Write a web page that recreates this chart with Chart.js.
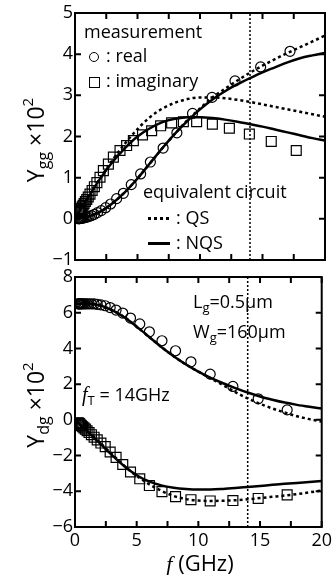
<!DOCTYPE html>
<html>
<head>
<meta charset="utf-8">
<script src="https://cdn.jsdelivr.net/npm/chart.js@4.4.1/dist/chart.umd.min.js"></script>
<style>
body { margin: 0; background: #fff; }
#wrap { position: relative; width: 335px; height: 575px; font-family: "Open Sans", sans-serif; color: #000; overflow: hidden; }
canvas { position: absolute; left: 0; }
.t { position: absolute; font-size: 18px; line-height: 1; white-space: nowrap; }
.t sub { font-size: 13px; vertical-align: -4px; line-height: 0; }
.yt { position: absolute; font-size: 23px; line-height: 1; white-space: nowrap; transform: translate(-50%, -50%) rotate(-90deg); }
.yt sub { font-size: 16px; vertical-align: -5px; line-height: 0; }
.yt sup { font-size: 15px; vertical-align: 11px; line-height: 0; }
.fi { font-family: "Liberation Serif", serif; font-style: italic; }
.circ { position: absolute; width: 8px; height: 8px; border: 1.3px solid #000; border-radius: 50%; }
.sq { position: absolute; width: 9px; height: 9px; border: 1.3px solid #000; }
.dot { position: absolute; height: 2.5px; width: 22px; background: repeating-linear-gradient(90deg, #000 0 3px, transparent 3px 6px); }
.sol { position: absolute; height: 2.5px; width: 22px; background: #000; }
</style>
</head>
<body>
<div id="wrap">
  <canvas id="topChart" width="335" height="274" style="top:0"></canvas>
  <canvas id="botChart" width="335" height="313" style="top:262px"></canvas>

  <div class="t" style="left:84px;top:22px">measurement</div>
  <div class="circ" style="left:89px;top:52px"></div>
  <div class="t" style="left:106px;top:46px">: real</div>
  <div class="sq" style="left:89px;top:77px"></div>
  <div class="t" style="left:106px;top:71px">: imaginary</div>

  <div class="t" style="left:143px;top:182px">equivalent circuit</div>
  <div class="dot" style="left:148px;top:217px"></div>
  <div class="t" style="left:176px;top:208px">: QS</div>
  <div class="sol" style="left:148px;top:242px"></div>
  <div class="t" style="left:176px;top:233px">: NQS</div>

  <div class="t" style="left:193px;top:292px">L<sub>g</sub>=0.5μm</div>
  <div class="t" style="left:193px;top:322px">W<sub>g</sub>=160μm</div>
  <div class="t" style="left:82px;top:384px"><span class="fi" style="font-size:20px">f</span><sub>T</sub> = 14GHz</div>

  <div class="yt" style="left:35px;top:140px">Y<sub>gg</sub> ×10<sup>2</sup></div>
  <div class="yt" style="left:35px;top:405px">Y<sub>dg</sub> ×10<sup>2</sup></div>
  <div class="t" style="left:200px;top:551px;font-size:22px;transform:translateX(-50%)"><span class="fi">f</span> (GHz)</div>
</div>

<script>
// model curves, 0..20 GHz
const fModel = [0, 1, 2, 3, 4, 5, 6, 7, 8, 9, 10, 11, 12, 13, 14, 15, 16, 17, 18, 19, 20];
const ggReQS  = [0, 0.05, 0.17, 0.38, 0.65, 0.98, 1.35, 1.72, 2.07, 2.4, 2.68, 2.95, 3.16, 3.36, 3.55, 3.72, 3.88, 4.03, 4.17, 4.31, 4.45];
const ggReNQS = [0, 0.05, 0.17, 0.38, 0.65, 0.98, 1.35, 1.72, 2.07, 2.38, 2.66, 2.9, 3.1, 3.27, 3.42, 3.56, 3.68, 3.8, 3.9, 3.97, 4.03];
const ggImQS  = [0, 0.5, 0.98, 1.43, 1.83, 2.18, 2.47, 2.68, 2.82, 2.91, 2.95, 2.95, 2.93, 2.89, 2.84, 2.78, 2.72, 2.66, 2.6, 2.54, 2.48];
const ggImNQS = [0, 0.5, 0.97, 1.38, 1.72, 2.0, 2.2, 2.35, 2.43, 2.47, 2.47, 2.45, 2.41, 2.36, 2.3, 2.24, 2.17, 2.1, 2.03, 1.96, 1.9];
const dgReQS  = [6.5, 6.5, 6.42, 6.15, 5.75, 5.22, 4.65, 4.08, 3.56, 3.1, 2.7, 2.32, 1.95, 1.55, 1.2, 0.9, 0.64, 0.41, 0.2, 0.04, -0.1];
const dgReNQS = [6.5, 6.5, 6.42, 6.15, 5.75, 5.22, 4.65, 4.08, 3.56, 3.1, 2.7, 2.35, 2.05, 1.78, 1.53, 1.31, 1.13, 0.97, 0.84, 0.73, 0.63];
const dgImQS  = [0, -0.62, -1.26, -1.92, -2.58, -3.14, -3.6, -3.97, -4.26, -4.44, -4.52, -4.54, -4.53, -4.5, -4.45, -4.38, -4.31, -4.24, -4.16, -4.06, -3.96];
const dgImNQS = [0, -0.64, -1.3, -1.98, -2.6, -3.1, -3.45, -3.67, -3.8, -3.87, -3.9, -3.9, -3.87, -3.82, -3.76, -3.7, -3.64, -3.58, -3.53, -3.48, -3.43];

// measurement
const fMeas = [17.2, 14.85, 12.8, 10.96, 9.4, 8.15, 7.05, 6.03, 5.25, 4.5, 3.87, 3.33, 2.85, 2.45, 2.1, 1.8, 1.55, 1.33, 1.14, 0.98, 0.84, 0.72, 0.62, 0.53, 0.46, 0.39, 0.34, 0.29, 0.25];
const ggRe = [4.07, 3.69, 3.35, 2.95, 2.56, 2.09, 1.72, 1.38, 1.09, 0.83, 0.62, 0.49, 0.36, 0.27, 0.2, 0.15, 0.11, 0.08, 0.06, 0.045, 0.033, 0.024, 0.018, 0.013, 0.01, 0.007, 0.005, 0.004, 0.003];
const dgRe = [0.56, 1.18, 1.87, 2.56, 3.25, 3.87, 4.43, 4.93, 5.37, 5.7, 5.98, 6.15, 6.29, 6.39, 6.44, 6.47, 6.49, 6.5, 6.5, 6.5, 6.5, 6.5, 6.5, 6.5, 6.5, 6.5, 6.5, 6.5, 6.5];
const dgIm = [-4.2, -4.4, -4.52, -4.54, -4.47, -4.3, -4.02, -3.68, -3.3, -2.92, -2.5, -2.1, -1.8, -1.5, -1.3, -1.12, -0.97, -0.83, -0.71, -0.61, -0.52, -0.45, -0.39, -0.33, -0.29, -0.24, -0.21, -0.18, -0.16];
const fImGG = [17.7, 15.7, 13.95, 12.35, 10.99, 9.73, 8.67, 7.73, 6.85, 6.13, 5.4, 4.67, 4.13, 3.6, 3.07, 2.67, 2.27, 2.0, 1.75, 1.55, 1.37, 1.2, 1.06, 0.94, 0.83, 0.73, 0.65, 0.57, 0.5, 0.44, 0.39, 0.35, 0.31];
const ggIm = [1.66, 1.88, 2.06, 2.2, 2.3, 2.36, 2.36, 2.33, 2.26, 2.14, 2.04, 1.9, 1.78, 1.66, 1.5, 1.33, 1.17, 1.01, 0.88, 0.78, 0.69, 0.6, 0.53, 0.47, 0.42, 0.37, 0.33, 0.29, 0.25, 0.22, 0.2, 0.18, 0.16];

const fT = 14;

const pts = (xs, ys) => xs.map((x, i) => ({ x: x, y: ys[i] }));

function curve(ys, dashed) {
    return {
        data: pts(fModel, ys), showLine: true, pointRadius: 0,
        borderColor: '#000', borderWidth: 2.5, borderDash: dashed ? [3, 3] : [],
        cubicInterpolationMode: 'monotone'
    };
}
function marks(xs, ys, style) {
    return {
        data: pts(xs, ys), showLine: false, pointStyle: style,
        pointRadius: style === 'rect' ? 7 : 5, borderWidth: 1.2,
        borderColor: '#000', backgroundColor: 'rgba(0,0,0,0)'
    };
}
function fLine(lo, hi) {
    return {
        data: [{ x: fT, y: lo }, { x: fT, y: hi }], showLine: true, pointRadius: 0,
        borderColor: '#000', borderWidth: 1.5, borderDash: [2, 2]
    };
}

// box frame and inward ticks on all four sides
const frame = {
    id: 'frame',
    afterDatasetsDraw(chart) {
        const { ctx, chartArea: a, scales } = chart;
        ctx.save();
        ctx.strokeStyle = '#000';
        ctx.lineWidth = 2;
        ctx.beginPath();
        scales.x.ticks.forEach(t => {
            const px = scales.x.getPixelForValue(t.value);
            ctx.moveTo(px, a.top); ctx.lineTo(px, a.top + 6);
            ctx.moveTo(px, a.bottom); ctx.lineTo(px, a.bottom - 6);
        });
        scales.y.ticks.forEach(t => {
            const py = scales.y.getPixelForValue(t.value);
            ctx.moveTo(a.left, py); ctx.lineTo(a.left + 6, py);
            ctx.moveTo(a.right, py); ctx.lineTo(a.right - 6, py);
        });
        ctx.stroke();
        ctx.strokeRect(a.left, a.top, a.right - a.left, a.bottom - a.top);
        ctx.restore();
    }
};

const tickFont = { family: 'Open Sans', size: 18 };
const minus = v => v < 0 ? '\u2212' + (-v) : '' + v;

function makeChart(id, datasets, yMin, yMax, yStep, showX, pad) {
    return new Chart(document.getElementById(id), {
        type: 'scatter',
        data: { datasets: datasets },
        options: {
            responsive: false,
            animation: false,
            layout: { padding: pad },
            plugins: { legend: { display: false }, tooltip: { enabled: false } },
            scales: {
                x: {
                    type: 'linear', min: 0, max: 20,
                    grid: { display: false, drawTicks: false },
                    border: { display: false },
                    ticks: {
                        display: showX, stepSize: 2.5, padding: 3, color: '#000', font: tickFont,
                        callback: v => v % 5 === 0 ? minus(v) : ''
                    },
                    afterFit: s => { s.height = showX ? 48 : 0; }
                },
                y: {
                    min: yMin, max: yMax,
                    grid: { display: false, drawTicks: false },
                    border: { display: false },
                    ticks: { stepSize: yStep, padding: 2, color: '#000', font: tickFont, callback: minus },
                    afterFit: s => { s.width = 75; }
                }
            }
        },
        plugins: [frame]
    });
}

makeChart('topChart', [
    fLine(-1, 5),
    curve(ggReQS, true), curve(ggReNQS, false),
    curve(ggImQS, true), curve(ggImNQS, false),
    marks(fMeas, ggRe, 'circle'),
    marks(fImGG, ggIm, 'rect')
], -1, 5, 1, false, { top: 13, right: 10, bottom: 14, left: 0 });

makeChart('botChart', [
    fLine(-6, 8),
    curve(dgReQS, true), curve(dgReNQS, false),
    curve(dgImQS, true), curve(dgImNQS, false),
    marks(fMeas, dgRe, 'circle'),
    marks(fMeas, dgIm, 'rect')
], -6, 8, 2, true, { top: 15, right: 10, bottom: 0, left: 0 });
</script>
</body>
</html>
